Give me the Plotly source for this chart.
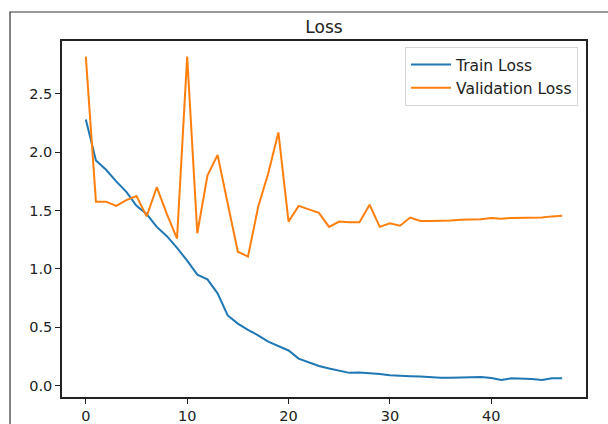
import plotly.graph_objects as go

epochs = list(range(48))

train_loss = [2.28, 1.93, 1.85, 1.75, 1.66, 1.54, 1.47, 1.36, 1.28, 1.18,
              1.07, 0.95, 0.91, 0.79, 0.60, 0.53, 0.476, 0.43, 0.376, 0.335,
              0.30, 0.23, 0.20, 0.167, 0.145, 0.124, 0.108, 0.112, 0.107, 0.099,
              0.087, 0.081, 0.079, 0.076, 0.070, 0.067, 0.067, 0.067, 0.072, 0.072,
              0.064, 0.047, 0.061, 0.061, 0.056, 0.047, 0.061, 0.061]

val_loss = [2.82, 1.576, 1.576, 1.54, 1.59, 1.625, 1.45, 1.70, 1.47, 1.26,
            2.82, 1.305, 1.80, 1.977, 1.56, 1.147, 1.105, 1.53, 1.82, 2.17,
            1.405, 1.54, 1.51, 1.48, 1.36, 1.405, 1.40, 1.40, 1.55, 1.36,
            1.39, 1.37, 1.44, 1.41, 1.41, 1.41, 1.415, 1.42, 1.42, 1.425,
            1.436, 1.43, 1.436, 1.436, 1.44, 1.44, 1.45, 1.455]

x_ticks = [0, 10, 20, 30, 40]
y_ticks = [0.0, 0.5, 1.0, 1.5, 2.0, 2.5]
y_tick_labels = ["0.0", "0.5", "1.0", "1.5", "2.0", "2.5"]

FONT = "DejaVu Sans"

fig = go.Figure()
fig.add_trace(go.Scatter(x=epochs, y=train_loss, mode="lines", name="Train Loss",
                         line=dict(color="#1f77b4", width=2)))
fig.add_trace(go.Scatter(x=epochs, y=val_loss, mode="lines", name="Validation Loss",
                         line=dict(color="#ff7f0e", width=2)))

W, H = 608, 424
ml, mr, mt, mb = 62, 22, 41, 27
pw, ph = W - ml - mr, H - mt - mb

def px2paper_x(px):
    return (px - ml) / pw

def py2paper_y(py):
    return (H - mb - py) / ph

fig.update_layout(
    width=W, height=H,
    margin=dict(l=ml, r=mr, t=mt, b=mb, pad=0, autoexpand=False),
    paper_bgcolor="white", plot_bgcolor="white",
    font=dict(family=FONT, color="#222", size=13),
    title=dict(text="Loss", x=0.5 * (ml + W - mr) / W, xanchor="center",
               y=1 - 27 / H, yanchor="middle", font=dict(size=17, color="#222")),
    showlegend=True,
    legend=dict(x=px2paper_x(578), xanchor="right", y=py2paper_y(47), yanchor="top",
                bgcolor="white", bordercolor="#d6d6d6", borderwidth=1,
                font=dict(size=15.5, color="#222"), itemwidth=40,
                tracegroupgap=0),
    xaxis=dict(range=[-2.35, 49.35], tickvals=x_ticks, ticks="outside", ticklen=5,
               tickwidth=1.3, tickcolor="#222", showgrid=False, zeroline=False,
               showline=True, linecolor="#222", linewidth=1.5, mirror=True,
               automargin=False, tickfont=dict(size=14.5, color="#222")),
    yaxis=dict(range=[-0.099, 2.954], tickvals=y_ticks, ticktext=y_tick_labels,
               ticks="outside", ticklen=5, tickwidth=1.3, tickcolor="#222",
               showgrid=False, zeroline=False, showline=True, linecolor="#222",
               linewidth=1.5, mirror=True, automargin=False,
               tickfont=dict(size=14.5, color="#222")),
    shapes=[dict(type="rect", xref="paper", yref="paper",
                 x0=px2paper_x(10), x1=px2paper_x(620),
                 y0=py2paper_y(440), y1=py2paper_y(12),
                 line=dict(color="#333", width=1.2), fillcolor="rgba(0,0,0,0)",
                 layer="below")],
)

fig.write_html("out.html", config={"displayModeBar": False},
               post_script="document.body.style.margin='0';document.body.style.overflow='hidden';")
